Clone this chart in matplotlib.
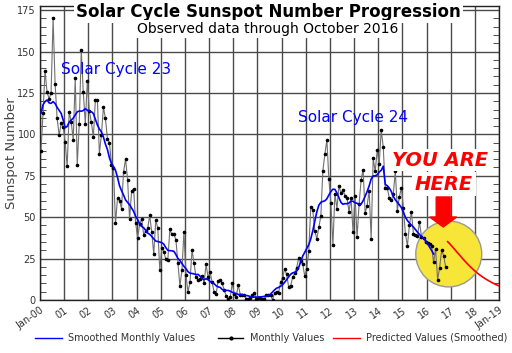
import numpy as np
import matplotlib
matplotlib.use("Agg")
import matplotlib.pyplot as plt
from matplotlib.patches import Ellipse, FancyArrow
from matplotlib.lines import Line2D
from matplotlib.ticker import MultipleLocator

# monthly sunspot numbers, Jan 2000 .. Mar 2014
monthly_a = [
    90.1, 112.9, 138.5, 125.5, 121.6, 124.9, 170.1, 130.5, 109.7, 99.4, 106.8, 104.4,
    95.6, 80.6, 113.5, 107.7, 96.6, 134.0, 81.8, 106.4, 150.7, 125.5, 106.5, 132.2,
    114.1, 107.4, 98.4, 120.7, 120.8, 88.3, 99.6, 116.4, 109.6, 97.5, 95.0, 81.6,
    79.5, 46.2, 61.5, 60.0, 55.2, 77.4, 85.0, 72.7, 48.8, 65.6, 67.2, 46.7,
    37.3, 45.8, 49.1, 39.3, 41.5, 43.2, 51.1, 40.9, 27.7, 48.0, 43.5, 17.9,
    31.3, 29.2, 24.5, 24.4, 42.6, 39.6, 39.9, 36.4, 22.1, 8.5, 18.0, 41.2,
    15.3, 4.9, 10.6, 30.2, 22.3, 13.9, 12.2, 12.9, 14.4, 10.4, 21.5, 13.6,
    16.9, 10.6, 4.8, 3.7, 11.7, 12.0, 10.0, 6.2, 2.4, 0.9, 1.7, 10.1,
    3.4, 2.1, 9.3, 2.9, 2.9, 3.1, 0.5, 0.5, 1.1, 2.9, 4.1, 0.8,
    1.5, 1.4, 0.7, 0.8, 2.9, 2.9, 3.2, 0.0, 4.3, 4.8, 4.1, 10.8,
    13.2, 18.8, 15.4, 8.0, 8.7, 13.6, 16.1, 19.6, 25.2, 23.5, 21.6, 14.5,
    19.0, 29.4, 56.2, 54.4, 41.6, 37.0, 43.9, 50.6, 78.0, 88.0, 96.7, 73.0,
    58.3, 33.1, 64.2, 55.2, 69.0, 64.5, 66.5, 63.0, 61.4, 53.3, 61.8, 40.8,
    62.9, 38.1, 57.9, 72.4, 78.7, 52.5, 57.0, 66.0, 37.0, 85.6, 77.6, 90.3,
    82.0, 102.8, 92.2,
]
# monthly values, Apr 2014 .. Oct 2016
monthly_b = [
    67.5, 67.5, 61.7, 60.1, 64.1, 78.0, 54.0, 62.2, 67.7,
    55.8, 40.0, 32.7, 45.2, 53.3, 39.9, 39.5, 38.6, 47.2, 38.2, 37.3, 34.8,
    34.2, 33.8, 32.5, 22.7, 30.9, 12.3, 19.4, 30.1, 26.8, 20.0,
]

# smoothed monthly values, Jan 2000 .. Mar 2014
smoothed_a = [
    112.9, 117.9, 119.8, 120.8, 119.0, 118.7, 119.8, 118.6, 116.3, 114.5, 112.7, 108.7,
    104.0, 104.8, 107.5, 108.6, 109.8, 111.7, 113.6, 114.1, 114.0, 114.4, 115.5, 114.6,
    113.9, 113.7, 112.6, 109.2, 105.7, 103.2, 101.5, 98.4, 94.1, 90.8, 85.8, 82.4,
    80.5, 78.3, 74.1, 69.0, 66.0, 63.4, 60.4, 59.0, 57.5, 55.5, 53.5, 50.5,
    48.6, 46.0, 44.4, 43.6, 42.1, 40.4, 39.6, 38.4, 36.9, 35.6, 35.3, 35.0,
    34.6, 33.7, 31.6, 30.0, 29.8, 29.7, 29.4, 27.5, 25.1, 23.8, 22.0, 20.3,
    18.9, 17.1, 16.2, 16.0, 15.8, 15.3, 15.5, 14.4, 12.9, 12.3, 12.8, 12.2,
    11.2, 10.3, 9.8, 8.6, 7.9, 7.6, 6.4, 5.7, 5.8, 5.8, 5.3, 4.7,
    4.2, 3.9, 3.3, 3.4, 3.3, 2.9, 2.7, 2.5, 2.0, 1.7, 1.8, 1.7,
    1.8, 1.9, 2.0, 2.2, 2.3, 2.7, 3.6, 4.8, 6.1, 7.1, 7.6, 8.3,
    9.3, 10.6, 12.3, 14.0, 15.5, 16.4, 16.7, 17.4, 19.6, 23.2, 26.5, 28.8,
    31.0, 33.4, 36.9, 41.8, 47.6, 53.2, 57.2, 59.0, 59.5, 59.9, 61.1, 63.4,
    65.5, 66.9, 66.8, 64.6, 61.7, 58.9, 57.8, 58.2, 58.1, 58.6, 59.7, 59.6,
    58.7, 58.4, 57.6, 57.9, 59.9, 62.6, 65.5, 68.9, 73.0, 74.9, 75.0, 75.6,
    77.3, 78.3, 80.8,
]
# smoothed, Apr 2014 .. Apr 2016
smoothed_b = [
    69.8, 69.0, 67.6, 65.5, 62.5, 60.5, 59.0, 57.5, 55.8,
    53.0, 50.0, 48.0, 46.5, 45.2, 44.0, 42.5, 41.0, 39.5, 38.5, 37.3, 36.0,
    34.0, 32.0, 30.0, 27.8,
]

# predicted smoothed, Nov 2016 .. Jan 2019
predicted = [
    35.2, 34.0,
    32.6, 31.2, 29.8, 28.4, 27.0, 25.6, 24.2, 22.9, 21.6, 20.4, 19.2, 18.1,
    17.0, 16.0, 15.1, 14.2, 13.4, 12.6, 11.9, 11.2, 10.5, 9.9, 9.3, 8.8,
    8.3,
]

year_labels = ['Jan-00'] + ['%02d' % y for y in range(1, 19)] + ['Jan-19']
y_ticks = [0, 25, 50, 75, 100, 125, 150, 175]

monthly = monthly_a + monthly_b
smoothed = smoothed_a + smoothed_b
t_monthly = (np.arange(len(monthly)) + 0.5) / 12
t_smoothed = (np.arange(len(smoothed)) + 0.5) / 12
t_pred = (16 * 12 + 10 + np.arange(len(predicted)) + 0.5) / 12

fig = plt.figure(figsize=(5.12, 3.53), dpi=100)
ax = fig.add_axes([40 / 512, 53 / 353, 459 / 512, 294 / 353])

ax.set_xlim(0, 19)
ax.set_ylim(0, 177.5)
ax.set_axisbelow(True)
ax.grid(True, which='major', color='#4a4a4a', lw=1.0)

ax.set_xticks(range(20))
ax.set_xticklabels(year_labels, rotation=35, ha='right', va='top',
                   rotation_mode='anchor', fontsize=7, color='#333333')
ax.set_yticks(y_ticks)
ax.set_yticklabels([str(v) for v in y_ticks], fontsize=7, color='#333333')
ax.yaxis.set_minor_locator(MultipleLocator(5))
ax.tick_params(axis='x', length=0, pad=4)
ax.tick_params(axis='y', which='major', length=0, pad=3)
ax.tick_params(axis='y', which='minor', direction='in', length=4,
               left=True, right=True, color='#333333')
for s in ax.spines.values():
    s.set_color('#222222')
    s.set_linewidth(1.0)

ax.set_ylabel('Sunspot Number', fontsize=9.5, color='#444444')
ax.yaxis.set_label_coords(-0.047, 0.5)

# yellow "you are here" circle
ax.add_patch(Ellipse((16.92, 27.8), 2.73, 39.8, fc='#f7e537', ec='#999999',
                     lw=1.0, zorder=1))

ax.plot(t_monthly, monthly, color='#707070', lw=0.8, marker='.', ms=3.2,
        mfc='black', mec='black', zorder=3)
ax.plot(t_smoothed, smoothed, color='#0000ff', lw=1.2, zorder=4)
ax.plot(t_pred, predicted, color='#ff0000', lw=1.2, zorder=4)

ax.text(3.14, 138.9, 'Solar Cycle 23', color='#0000ff', fontsize=11,
        ha='center', va='center', zorder=6)
ax.text(12.97, 110, 'Solar Cycle 24', color='#0000ff', fontsize=11,
        ha='center', va='center', zorder=6)

ax.text(16.55, 84.5, 'YOU ARE', color='#ff0000', fontsize=14,
        fontweight='bold', fontstyle='italic', ha='center', va='center',
        zorder=6, bbox=dict(fc='white', ec='none', pad=1))
ax.text(16.72, 70, 'HERE', color='#ff0000', fontsize=14,
        fontweight='bold', fontstyle='italic', ha='center', va='center',
        zorder=6, bbox=dict(fc='white', ec='none', pad=2))
ax.add_patch(FancyArrow(16.69, 62.2, 0, -18.1, width=0.58, head_width=1.12,
                        head_length=6.0, length_includes_head=True,
                        fc='#ff0000', ec='#ff0000', zorder=7))

fig.text(0.525, 0.966, 'Solar Cycle Sunspot Number Progression',
         fontsize=12, fontweight='bold', ha='center', va='center',
         bbox=dict(fc='white', ec='none', pad=1.5), zorder=10)
fig.text(0.522, 0.918, 'Observed data through October 2016',
         fontsize=10, ha='center', va='center',
         bbox=dict(fc='white', ec='none', pad=1.5), zorder=10)

# legend along the bottom
leg_y = 15 / 353
entries = [
    (35, 62, 68, '#0000ff', None, 'Smoothed Monthly Values'),
    (218, 243, 250, 'black', '.', 'Monthly Values'),
    (333, 360, 366, '#ff0000', None, 'Predicted Values (Smoothed)'),
]
for x0, x1, xt, col, mk, label in entries:
    fig.add_artist(Line2D([x0 / 512, x1 / 512], [leg_y, leg_y], color=col,
                          lw=1.0, transform=fig.transFigure))
    if mk:
        fig.add_artist(Line2D([(x0 + x1) / 1024], [leg_y], marker=mk, ms=4,
                              color=col, transform=fig.transFigure))
    fig.text(xt / 512, leg_y, label, fontsize=7, color='#333333',
             ha='left', va='center')

fig.savefig('out.png', dpi=100)
